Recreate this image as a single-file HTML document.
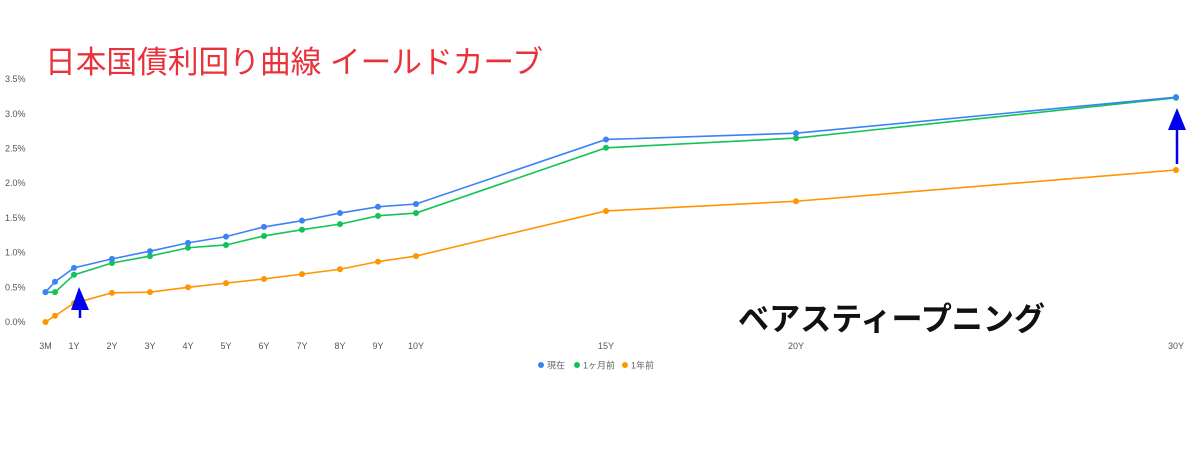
<!DOCTYPE html>
<html><head><meta charset="utf-8">
<style>
html,body{margin:0;padding:0;background:#fff;width:1200px;height:450px;overflow:hidden}
svg{display:block}
text{font-family:"Liberation Sans","Noto Sans CJK JP",sans-serif}
</style></head><body>
<svg id="chart" width="1200" height="450">
<text x="45" y="73" font-size="31" fill="#e8323c" textLength="498" lengthAdjust="spacingAndGlyphs">日本国債利回り曲線 イールドカーブ</text>
<text x="738" y="330" font-size="32" font-weight="bold" fill="#111" textLength="307" lengthAdjust="spacingAndGlyphs">ベアスティープニング</text>
<g id="axes"></g>
<g id="series"></g>
<g>
<line x1="80" y1="318" x2="80" y2="300" stroke="#0000ee" stroke-width="2.5"/>
<polygon points="79,287 71,310 89,310" fill="#0000ee"/>
</g>
<g>
<line x1="1177" y1="164" x2="1177" y2="125" stroke="#0000ee" stroke-width="2.5"/>
<polygon points="1177,108 1168,130 1186,130" fill="#0000ee"/>
</g>
<g id="legend"></g>
</svg>
<script>
const tenors = [0.25,0.5,1,2,3,4,5,6,7,8,9,10,15,20,30];
const tickTenors = [0.25,1,2,3,4,5,6,7,8,9,10,15,20,30];
const tickLabels = ["3M","1Y","2Y","3Y","4Y","5Y","6Y","7Y","8Y","9Y","10Y","15Y","20Y","30Y"];
const yTicks = [0,0.5,1,1.5,2,2.5,3,3.5];
const seriesNames = ["現在","1ヶ月前","1年前"];
const seriesNow = [0.43,0.58,0.78,0.91,1.02,1.14,1.23,1.37,1.46,1.57,1.66,1.70,2.63,2.72,3.24];
const seriesMonth = [0.43,0.43,0.68,0.85,0.95,1.07,1.11,1.24,1.33,1.41,1.53,1.57,2.51,2.65,3.23];
const seriesYear = [0.00,0.09,0.27,0.42,0.43,0.50,0.56,0.62,0.69,0.76,0.87,0.95,1.60,1.74,2.19];
const colors = ["#3b82f6","#12c456","#ff9500"];
const NS="http://www.w3.org/2000/svg";
function xs(t){return 36+38*t;}
function ys(v){return 322-69.4*v;}
function mk(tag,attrs,parent){const e=document.createElementNS(NS,tag);for(const k in attrs)e.setAttribute(k,attrs[k]);parent.appendChild(e);return e;}
const axes=document.getElementById('axes');
yTicks.forEach(v=>{
  const t=mk('text',{x:5,y:ys(v)+3,'font-size':9,fill:'#555'},axes);
  t.textContent=v.toFixed(1)+'%';
  
  
});
tickTenors.forEach((tt,i)=>{
  const t=mk('text',{x:xs(tt),y:349,'font-size':9,fill:'#555','text-anchor':'middle'},axes);
  t.textContent=tickLabels[i];
  
  
});
const sg=document.getElementById('series');
[seriesYear,seriesMonth,seriesNow].forEach((s,k)=>{
  const idx=2-k;const c=colors[idx];
  const g=mk('g',{},sg);
  
  
  const p=mk('polyline',{points:s.map((v,i)=>xs(tenors[i])+','+ys(v)).join(' '),fill:'none',stroke:c,'stroke-width':1.6},g);
  
  
  s.forEach((v,i)=>{
    const d=mk('circle',{cx:xs(tenors[i]),cy:ys(v),r:3,fill:c},g);
    
    
  });
});
const lg=document.getElementById('legend');
const lx=[541,577,625];
seriesNames.forEach((n,i)=>{
  const g=mk('g',{},lg);
  
  
  mk('circle',{cx:lx[i],cy:365,r:3,fill:colors[i]},g);
  const t=mk('text',{x:lx[i]+6,y:368.5,'font-size':9,fill:'#666'},g);
  t.textContent=n;
});
</script>
</body></html>
